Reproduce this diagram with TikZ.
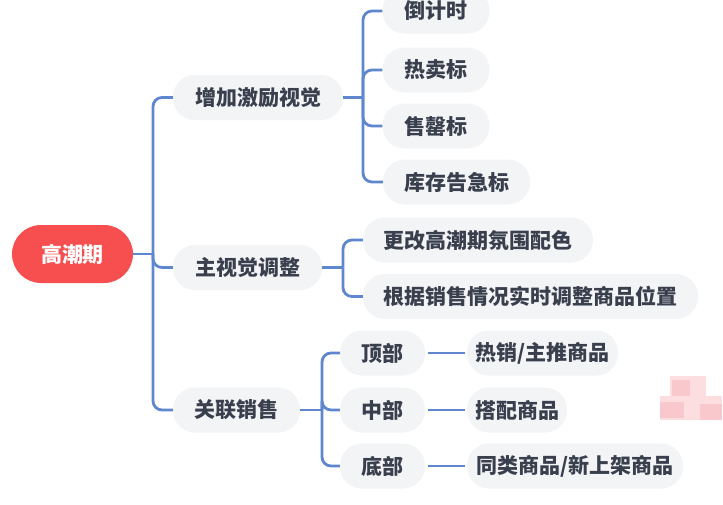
\documentclass[tikz,border=0pt]{standalone}
\usepackage{fontspec}
\newfontfamily\cjk{Noto Sans CJK SC}
\definecolor{linec}{RGB}{95,135,208}
\definecolor{boxc}{RGB}{243,244,246}
\definecolor{txtc}{RGB}{58,63,78}
\definecolor{rootc}{RGB}{247,78,80}
\definecolor{pinka}{RGB}{249,200,204}
\definecolor{pinkb}{RGB}{252,222,224}
\begin{document}
\begin{tikzpicture}[x=1pt,y=-1pt,
  conn/.style={draw=linec,line width=2.8pt},
  bx/.style={fill=boxc,draw=none,rounded corners=22pt,minimum height=45pt,inner sep=0pt,
     font=\cjk\fontsize{21}{22}\selectfont\bfseries,text=txtc,anchor=center}]
\useasboundingbox (0,0) rectangle (723,504);
\fill[white] (0,0) rectangle (723,504);
% watermark mosaic
\fill[pinkb] (670,376) rectangle (706,396);
\fill[pinkb] (660,396) rectangle (722,420);
\fill[pinka] (672,380) rectangle (690,396);
\fill[pinka] (660,402) rectangle (684,418);
\fill[pinka] (700,404) rectangle (722,420);
% nodes
\node[fill=rootc,rounded corners=29pt,minimum width=121pt,minimum height=58pt,inner sep=0pt,
  font=\cjk\fontsize{21}{22}\selectfont\bfseries,text=white] (root) at (72.5,254) {高潮期};
\node[bx,minimum width=170pt] (a) at (258,97.5) {增加激励视觉};
\node[bx,minimum width=107pt] (a1) at (436,11) {倒计时};
\node[bx,minimum width=107pt] (a2) at (436,70) {热卖标};
\node[bx,minimum width=107pt] (a3) at (436,126) {售罄标};
\node[bx,minimum width=147pt] (a4) at (456.5,182) {库存告急标};
\node[bx,minimum width=149pt] (b) at (247.5,267.5) {主视觉调整};
\node[bx,minimum width=230pt] (b1) at (478,240) {更改高潮期氛围配色};
\node[bx,minimum width=335pt] (b2) at (530.5,296.5) {根据销售情况实时调整商品位置};
\node[bx,minimum width=127pt] (c) at (236.5,410) {关联销售};
\node[bx,minimum width=85pt] (c1) at (382.5,353) {顶部};
\node[bx,minimum width=85pt] (c2) at (382.5,410) {中部};
\node[bx,minimum width=85pt] (c3) at (382.5,466) {底部};
\node[bx,minimum width=151pt] (d1) at (542.5,353) {热销/主推商品};
\node[bx,minimum width=100pt] (d2) at (517,410) {搭配商品};
\node[bx,minimum width=216pt] (d3) at (575,466) {同类商品/新上架商品};
% junctions
\coordinate (j1) at (153,254);
\coordinate (j2) at (363,97.5);
\coordinate (j3) at (343,267.5);
\coordinate (j4) at (322,410);
% connectors
\draw[conn] (root.east) -- (j1);
\foreach \n in {a,b,c} \draw[conn,rounded corners=9pt] (j1) |- (\n.west);
\draw[conn] (a.east) -- (j2);
\foreach \n in {a1,a2,a3,a4} \draw[conn,rounded corners=9pt] (j2) |- (\n.west);
\draw[conn] (b.east) -- (j3);
\foreach \n in {b1,b2} \draw[conn,rounded corners=9pt] (j3) |- (\n.west);
\draw[conn] (c.east) -- (j4);
\foreach \n in {c1,c2,c3} \draw[conn,rounded corners=9pt] (j4) |- (\n.west);
\draw[conn,shorten <=3pt,shorten >=2pt] (c1.east) -- (d1.west);
\draw[conn,shorten <=3pt,shorten >=2pt] (c2.east) -- (d2.west);
\draw[conn,shorten <=3pt,shorten >=2pt] (c3.east) -- (d3.west);
\end{tikzpicture}
\end{document}
